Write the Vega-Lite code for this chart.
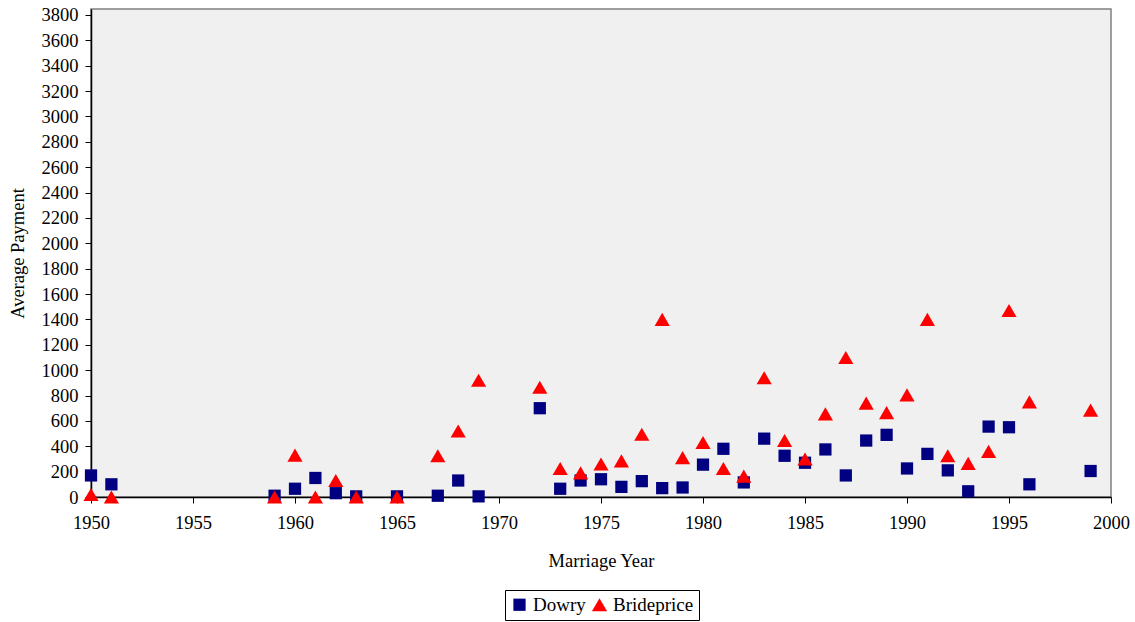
{
  "$schema": "https://vega.github.io/schema/vega-lite/v6.json",
  "width": 1020,
  "height": 488,
  "autosize": {"type": "none"},
  "padding": {"left": 91, "top": 9, "right": 24, "bottom": 125},
  "background": "white",
  "config": {
    "font": "Liberation Serif",
    "view": {"fill": "#F0F0F0", "stroke": "#808080", "strokeWidth": 1.5}
  },
  "data": {
    "values": [
      {"year": 1950, "type": "Dowry", "value": 170},
      {"year": 1951, "type": "Dowry", "value": 100},
      {"year": 1959, "type": "Dowry", "value": 10},
      {"year": 1960, "type": "Dowry", "value": 65},
      {"year": 1961, "type": "Dowry", "value": 150},
      {"year": 1962, "type": "Dowry", "value": 30},
      {"year": 1963, "type": "Dowry", "value": 5},
      {"year": 1965, "type": "Dowry", "value": 5},
      {"year": 1967, "type": "Dowry", "value": 10},
      {"year": 1968, "type": "Dowry", "value": 130},
      {"year": 1969, "type": "Dowry", "value": 5},
      {"year": 1972, "type": "Dowry", "value": 700},
      {"year": 1973, "type": "Dowry", "value": 65},
      {"year": 1974, "type": "Dowry", "value": 130},
      {"year": 1975, "type": "Dowry", "value": 140},
      {"year": 1976, "type": "Dowry", "value": 80},
      {"year": 1977, "type": "Dowry", "value": 125},
      {"year": 1978, "type": "Dowry", "value": 70},
      {"year": 1979, "type": "Dowry", "value": 75},
      {"year": 1980, "type": "Dowry", "value": 255},
      {"year": 1981, "type": "Dowry", "value": 380},
      {"year": 1982, "type": "Dowry", "value": 115},
      {"year": 1983, "type": "Dowry", "value": 460},
      {"year": 1984, "type": "Dowry", "value": 325},
      {"year": 1985, "type": "Dowry", "value": 270},
      {"year": 1986, "type": "Dowry", "value": 375},
      {"year": 1987, "type": "Dowry", "value": 170},
      {"year": 1988, "type": "Dowry", "value": 445},
      {"year": 1989, "type": "Dowry", "value": 490},
      {"year": 1990, "type": "Dowry", "value": 225},
      {"year": 1991, "type": "Dowry", "value": 340},
      {"year": 1992, "type": "Dowry", "value": 210},
      {"year": 1993, "type": "Dowry", "value": 45},
      {"year": 1994, "type": "Dowry", "value": 555},
      {"year": 1995, "type": "Dowry", "value": 550},
      {"year": 1996, "type": "Dowry", "value": 100},
      {"year": 1999, "type": "Dowry", "value": 205},
      {"year": 1950, "type": "Brideprice", "value": 20},
      {"year": 1951, "type": "Brideprice", "value": 0},
      {"year": 1959, "type": "Brideprice", "value": 0},
      {"year": 1960, "type": "Brideprice", "value": 330},
      {"year": 1961, "type": "Brideprice", "value": 0},
      {"year": 1962, "type": "Brideprice", "value": 130},
      {"year": 1963, "type": "Brideprice", "value": 0},
      {"year": 1965, "type": "Brideprice", "value": 0},
      {"year": 1967, "type": "Brideprice", "value": 325},
      {"year": 1968, "type": "Brideprice", "value": 520},
      {"year": 1969, "type": "Brideprice", "value": 920},
      {"year": 1972, "type": "Brideprice", "value": 865},
      {"year": 1973, "type": "Brideprice", "value": 225},
      {"year": 1974, "type": "Brideprice", "value": 190},
      {"year": 1975, "type": "Brideprice", "value": 260},
      {"year": 1976, "type": "Brideprice", "value": 285},
      {"year": 1977, "type": "Brideprice", "value": 495},
      {"year": 1978, "type": "Brideprice", "value": 1400},
      {"year": 1979, "type": "Brideprice", "value": 310},
      {"year": 1980, "type": "Brideprice", "value": 430},
      {"year": 1981, "type": "Brideprice", "value": 225},
      {"year": 1982, "type": "Brideprice", "value": 165},
      {"year": 1983, "type": "Brideprice", "value": 940},
      {"year": 1984, "type": "Brideprice", "value": 445},
      {"year": 1985, "type": "Brideprice", "value": 300},
      {"year": 1986, "type": "Brideprice", "value": 655},
      {"year": 1987, "type": "Brideprice", "value": 1100},
      {"year": 1988, "type": "Brideprice", "value": 740},
      {"year": 1989, "type": "Brideprice", "value": 665},
      {"year": 1990, "type": "Brideprice", "value": 805},
      {"year": 1991, "type": "Brideprice", "value": 1400},
      {"year": 1992, "type": "Brideprice", "value": 325},
      {"year": 1993, "type": "Brideprice", "value": 265},
      {"year": 1994, "type": "Brideprice", "value": 360},
      {"year": 1995, "type": "Brideprice", "value": 1470},
      {"year": 1996, "type": "Brideprice", "value": 750},
      {"year": 1999, "type": "Brideprice", "value": 685}
    ]
  },
  "mark": {"type": "point", "filled": true, "opacity": 1},
  "encoding": {
    "x": {"field": "year", "type": "quantitative", "scale": {"domain": [1950, 2000], "nice": false, "zero": false},
      "axis": {"title": "Marriage Year", "values": [1950, 1955, 1960, 1965, 1970, 1975, 1980, 1985, 1990, 1995, 2000], "format": "d", "labelFlush": false, "labelOverlap": false, "grid": false, "domainColor": "#000000", "domainWidth": 1.5, "tickColor": "#000000", "tickSize": 6, "labelFont": "Liberation Serif", "titleFont": "Liberation Serif", "labelFontSize": 18.5, "titleFontSize": 18.5, "labelColor": "#000000", "titleColor": "#000000", "titleFontWeight": "normal", "titlePadding": 20, "labelPadding": 10}},
    "y": {"field": "value", "type": "quantitative", "scale": {"domain": [0, 3847], "nice": false},
      "axis": {"title": "Average Payment", "values": [0,200,400,600,800,1000,1200,1400,1600,1800,2000,2200,2400,2600,2800,3000,3200,3400,3600,3800], "format": "d", "labelFlush": false, "labelOverlap": false, "grid": false, "domainColor": "#000000", "domainWidth": 1.5, "tickColor": "#000000", "tickSize": 6, "labelFont": "Liberation Serif", "titleFont": "Liberation Serif", "labelFontSize": 18.5, "titleFontSize": 18.5, "labelColor": "#000000", "titleColor": "#000000", "titleFontWeight": "normal", "titlePadding": 14, "labelPadding": 7}},
    "color": {"field": "type", "type": "nominal", "scale": {"domain": ["Dowry", "Brideprice"], "range": ["#000080", "#FF0000"]},
      "legend": {"title": null, "orient": "none", "legendX": 414, "legendY": 581, "direction": "horizontal", "strokeColor": "#000000", "padding": 5, "labelFontSize": 19, "labelFont": "Liberation Serif", "labelColor": "#000000", "symbolSize": 150, "columnPadding": 4, "labelOffset": 4}},
    "shape": {"field": "type", "type": "nominal", "scale": {"domain": ["Dowry", "Brideprice"], "range": ["square", "triangle-up"]}},
    "size": {"field": "type", "type": "nominal", "scale": {"domain": ["Dowry", "Brideprice"], "range": [150, 230]}, "legend": null}
  }
}
